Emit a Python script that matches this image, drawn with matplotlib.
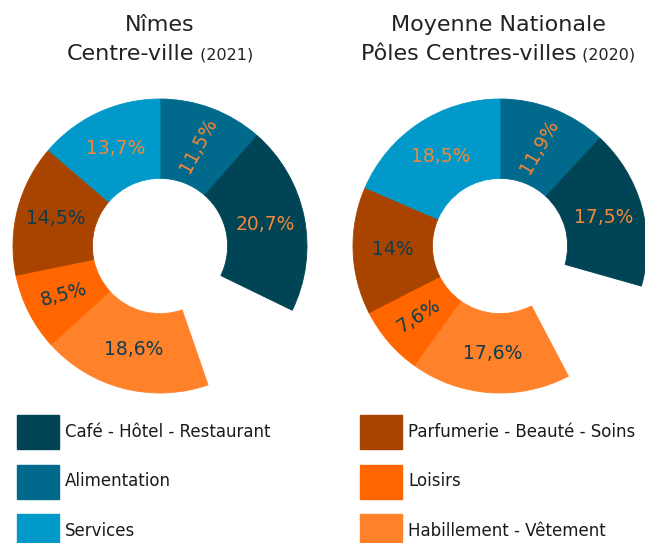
import numpy as np
import matplotlib.pyplot as plt
from matplotlib.patches import Rectangle

# données
categories = ['Café - Hôtel - Restaurant', 'Alimentation', 'Services',
              'Parfumerie - Beauté - Soins', 'Loisirs', 'Habillement - Vêtement']
colors = ['#014455', '#00698c', '#0099c9', '#a94400', '#ff6600', '#ff822a']
nimes = [20.7, 11.5, 13.7, 14.5, 8.5, 18.6]
national = [17.5, 11.9, 18.5, 14.0, 7.6, 17.6]

W, H = 645, 543
R = 147
plt.rcParams['font.family'] = 'DejaVu Sans'
fig = plt.figure(figsize=(W / 100, H / 100), dpi=100)

# ordre des parts dans le sens horaire depuis midi (None = part vide)
order = [1, 0, None, 5, 4, 3, 2]
label_orange = '#f0883a'
label_navy = '#0e3d4f'


def donut(cx, cy, values, rotations):
    ax = fig.add_axes([(cx - R) / W, 1 - (cy + R) / H, 2 * R / W, 2 * R / H])
    sizes, cols = [], []
    for i in order:
        if i is None:
            sizes.append(100 - sum(values))
            cols.append('none')
        else:
            sizes.append(values[i])
            cols.append(colors[i])
    wedges, _ = ax.pie(sizes, colors=cols, startangle=90, counterclock=False, radius=1,
                       wedgeprops=dict(width=0.54, linewidth=0.6))
    ax.set_xlim(-1, 1)
    ax.set_ylim(-1, 1)
    ax.set_aspect('equal')
    ax.axis('off')
    for w, i, c in zip(wedges, order, cols):
        w.set_edgecolor(c)
        if i is None:
            continue
        ang = np.deg2rad((w.theta1 + w.theta2) / 2)
        txt = f'{values[i]:g}'.replace('.', ',') + '%'
        ax.text(0.73 * np.cos(ang), 0.73 * np.sin(ang), txt, ha='center', va='center',
                fontsize=13.5, rotation=rotations.get(i, 0), rotation_mode='anchor',
                color=label_orange if i < 3 else label_navy)


def title(cx, line1, line2, year):
    fig.text(cx / W, 1 - 31 / H, line1, ha='center', va='baseline', fontsize=16, color='#222222')
    r = fig.canvas.get_renderer()
    t2 = fig.text(0, 1 - 60 / H, line2, ha='left', va='baseline', fontsize=16, color='#222222')
    t3 = fig.text(0, 1 - 60 / H, ' ' + year, ha='left', va='baseline', fontsize=11.5, color='#222222')
    w2 = t2.get_window_extent(r).width
    w3 = t3.get_window_extent(r).width
    x0 = cx - (w2 + w3) / 2
    t2.set_x(x0 / W)
    t3.set_x((x0 + w2) / W)


donut(160, 246, nimes, {1: 62, 4: 15})
donut(500, 246, national, {1: 60, 4: 32})
title(160, 'Nîmes', 'Centre-ville', '(2021)')
title(498, 'Moyenne Nationale', 'Pôles Centres-villes', '(2020)')

# légende
for k, cat in enumerate(categories):
    col, row = divmod(k, 3)
    x = 17 + col * 343
    y = 415 + row * 49.5
    fig.patches.append(Rectangle((x / W, 1 - (y + 34) / H), 42 / W, 34 / H,
                                 transform=fig.transFigure, color=colors[k]))
    fig.text((x + 48) / W, 1 - (y + 17) / H, cat, ha='left', va='center',
             fontsize=12, color='#1a1a1a')

fig.savefig('out.png', dpi=100)
